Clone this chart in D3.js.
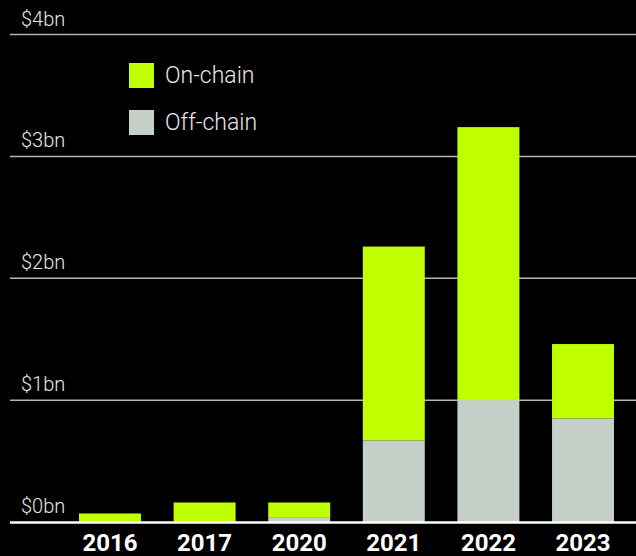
<!DOCTYPE html>
<html>
<head>
<meta charset="utf-8">
<script src="https://cdn.jsdelivr.net/npm/d3@7"></script>
<style>
  html, body { margin: 0; padding: 0; background: #000; }
  svg { display: block; }
</style>
</head>
<body>
<svg id="chart" width="636" height="556"></svg>
<script>
// Yearly value, in billions of dollars, split by where it happened
const years = ["2016", "2017", "2020", "2021", "2022", "2023"];
const onChain = [0.07, 0.16, 0.12, 1.59, 2.24, 0.61];
const offChain = [0.0, 0.0, 0.04, 0.67, 1.0, 0.85];
const tickValues = [0, 1, 2, 3, 4];
const tickLabels = ["$0bn", "$1bn", "$2bn", "$3bn", "$4bn"];
const seriesNames = ["On-chain", "Off-chain"];

const colors = { "Off-chain": "#c5d0c8", "On-chain": "#bfff00" };

const svg = d3.select("#chart");
const W = 636;

const x = d3.scaleBand().domain(years).range([79, 614]).paddingInner(0.345).paddingOuter(0);
const y = d3.scaleLinear().domain([0, 4]).range([522, 34.5]);

// Gridlines with their labels sitting just above
const grid = svg.append("g");
tickValues.forEach((v, i) => {
  if (v !== 0) {
    grid.append("line")
      .attr("x1", 10).attr("x2", W)
      .attr("y1", y(v)).attr("y2", y(v))
      .attr("stroke", "#b4b4b4").attr("stroke-width", 1.5);
  }
  grid.append("text")
    .attr("x", 21).attr("y", y(v) - 9)
    .attr("fill", "#e6e6e6")
    .style("font-family", "Roboto, 'Liberation Sans', sans-serif")
    .style("font-weight", 300)
    .style("font-size", "20px")
    .text(tickLabels[i]);
});

// Stacked bars: off-chain at the bottom, on-chain on top
const rows = years.map((yr, i) => ({ year: yr, "Off-chain": offChain[i], "On-chain": onChain[i] }));
const stack = d3.stack().keys(["Off-chain", "On-chain"]);
const layers = stack(rows);

svg.append("g").selectAll("g")
  .data(layers)
  .join("g")
  .attr("fill", d => colors[d.key])
  .selectAll("rect")
  .data(d => d)
  .join("rect")
  .attr("x", d => x(d.data.year))
  .attr("width", x.bandwidth())
  .attr("y", d => y(d[1]))
  .attr("height", d => Math.max(0, y(d[0]) - y(d[1])));

// Baseline
svg.append("line")
  .attr("x1", 10).attr("x2", W)
  .attr("y1", y(0) + 0.5).attr("y2", y(0) + 0.5)
  .attr("stroke", "#ffffff").attr("stroke-width", 2.5);

// Year labels
const xAxis = d3.axisBottom(x).tickSize(0).tickPadding(0);
const xg = svg.append("g").attr("transform", `translate(0, ${y(0)})`).call(xAxis);
xg.select(".domain").remove();
xg.selectAll("text")
  .attr("y", 29)
  .attr("dy", 0)
  .attr("fill", "#ffffff")
  .style("font-family", "Roboto, 'Liberation Sans', sans-serif")
  .style("font-weight", 700)
  .style("font-size", "24px");

// Legend
const legend = svg.append("g");
seriesNames.forEach((name, i) => {
  const ly = 63 + i * 47;
  legend.append("rect")
    .attr("x", 129).attr("y", ly)
    .attr("width", 25).attr("height", 25)
    .attr("fill", colors[name]);
  legend.append("text")
    .attr("x", 165).attr("y", ly + 19.5)
    .attr("fill", "#e6e6e6")
    .style("font-family", "Roboto, 'Liberation Sans', sans-serif")
    .style("font-weight", 300)
    .style("font-size", "23px")
    .text(name);
});
</script>
</body>
</html>
